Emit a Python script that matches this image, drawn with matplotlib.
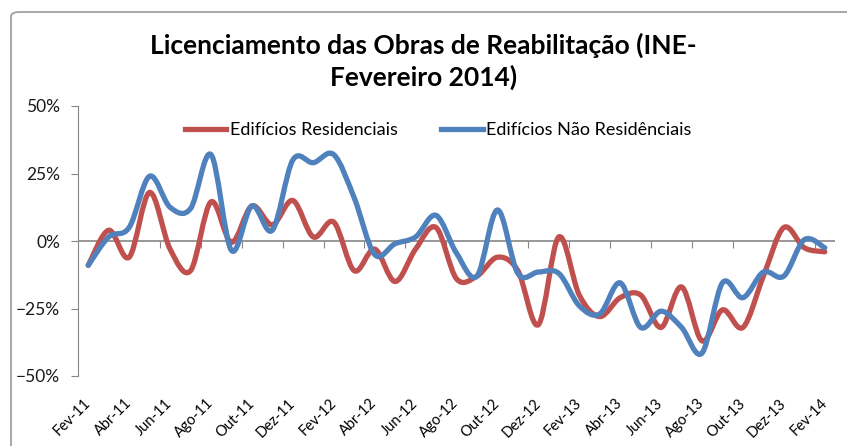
import matplotlib
matplotlib.use("Agg")
import matplotlib.pyplot as plt
from matplotlib.path import Path
from matplotlib.patches import PathPatch, FancyBboxPatch
from matplotlib.lines import Line2D
from matplotlib.ticker import PercentFormatter, FixedLocator, NullFormatter
import numpy as np

plt.rcParams['font.family'] = ['Lato', 'DejaVu Sans']

# --- dados (variação homóloga, %) ---
meses = ["Fev-11", "Mar-11", "Abr-11", "Mai-11", "Jun-11", "Jul-11", "Ago-11", "Set-11",
         "Out-11", "Nov-11", "Dez-11", "Jan-12", "Fev-12", "Mar-12", "Abr-12", "Mai-12",
         "Jun-12", "Jul-12", "Ago-12", "Set-12", "Out-12", "Nov-12", "Dez-12", "Jan-13",
         "Fev-13", "Mar-13", "Abr-13", "Mai-13", "Jun-13", "Jul-13", "Ago-13", "Set-13",
         "Out-13", "Nov-13", "Dez-13", "Jan-14", "Fev-14"]
residenciais = [-9, 4, -6, 18, -3, -11, 14.5, -0.5, 13, 6, 15, 1.5, 7, -11, -3, -15,
                -3, 5, -14, -13, -6, -11, -31, 1.5, -20, -28, -21, -20, -32, -17,
                -37, -25.5, -32, -13, 5, -2.5, -4]
nao_residenciais = [-9, 1.5, 5, 24, 12.5, 12, 32, -3.5, 13, 4, 30, 29, 32, 16, -5, -1,
                    1.5, 9.5, -4.5, -13, 11.5, -12, -11.5, -12, -24, -27, -15.5, -32, -26, -32,
                    -41.5, -15.5, -21, -11.5, -13, 0.5, -2.5]

vermelho = "#C0504D"
azul = "#4F81BD"
cinza = "#868686"


def curva_suave(xs, ys):
    # curva de Bezier tipo Excel (linha suavizada)
    pts = np.column_stack([xs, ys]).astype(float)
    n = len(pts)
    verts = [pts[0]]
    codes = [Path.MOVETO]
    for i in range(n - 1):
        p0 = pts[i - 1] if i > 0 else pts[i]
        p1 = pts[i]
        p2 = pts[i + 1]
        p3 = pts[i + 2] if i + 2 < n else pts[i + 1]
        c1 = p1 + (p2 - p0) / 6
        c2 = p2 - (p3 - p1) / 6
        verts += [c1, c2, p2]
        codes += [Path.CURVE4] * 3
    return Path(verts, codes)


fig = plt.figure(figsize=(8.47, 4.46), dpi=100)

# moldura do gráfico
moldura = FancyBboxPatch((11 / 847, -0.2), 1.2, (446 - 12) / 446 + 0.2,
                         boxstyle="round,pad=0,rounding_size=0.01",
                         transform=fig.transFigure, facecolor="none",
                         edgecolor="#9A9A9A", linewidth=1.2, zorder=-10)
fig.patches.append(moldura)

ax = fig.add_axes([78 / 847, 1 - 376 / 446, (835 - 78) / 847, (376 - 106) / 446])
ax.set_facecolor("none")

x = np.arange(len(meses))
ax.axhline(0, color=cinza, lw=1.2, zorder=1)
for serie, cor in [(residenciais, vermelho), (nao_residenciais, azul)]:
    ax.add_patch(PathPatch(curva_suave(x, serie), facecolor="none", edgecolor=cor,
                           linewidth=3.8, capstyle="round", joinstyle="round", zorder=3))

ax.set_xlim(-0.5, len(meses) - 0.5)
ax.set_ylim(-50, 50)

for s in ["top", "right", "bottom"]:
    ax.spines[s].set_visible(False)
ax.spines["left"].set_color(cinza)
ax.set_yticks([-50, -25, 0, 25, 50])
ax.yaxis.set_major_formatter(PercentFormatter(decimals=0))
ax.tick_params(axis="y", direction="out", length=5, color=cinza, labelsize=12.5,
               pad=8, labelcolor="#1a1a1a")

ax.set_xticks(x[::2])
ax.set_xticklabels(meses[::2], rotation=45, ha="right", rotation_mode="anchor",
                   va="center", fontsize=10.5)
ax.tick_params(axis="x", length=0, pad=18)

# marcas do eixo horizontal no zero
eixo0 = ax.secondary_xaxis(0.5)
for s in eixo0.spines.values():
    s.set_visible(False)
eixo0.xaxis.set_major_locator(FixedLocator(np.arange(1.5, len(meses) - 1, 2)))
eixo0.xaxis.set_major_formatter(NullFormatter())
eixo0.xaxis.set_ticks_position("bottom")
eixo0.tick_params(axis="x", direction="out", length=5, color=cinza,
                  labelbottom=False, labeltop=False)

handles = [Line2D([], [], color=vermelho, lw=3.8),
           Line2D([], [], color=azul, lw=3.8)]
ax.legend(handles, ["Edifícios Residenciais", "Edifícios Não Residênciais"],
          loc="center", bbox_to_anchor=(0.476, 0.91), ncol=2, frameon=False,
          fontsize=13, handlelength=2.3, handletextpad=0.2, columnspacing=2.4)

fig.text(0.5, 0.862, "Licenciamento das Obras de Reabilitação (INE-\nFevereiro 2014)",
         ha="center", va="center", fontsize=19, fontweight="bold", linespacing=1.3)

fig.savefig("out.png", dpi=100)
